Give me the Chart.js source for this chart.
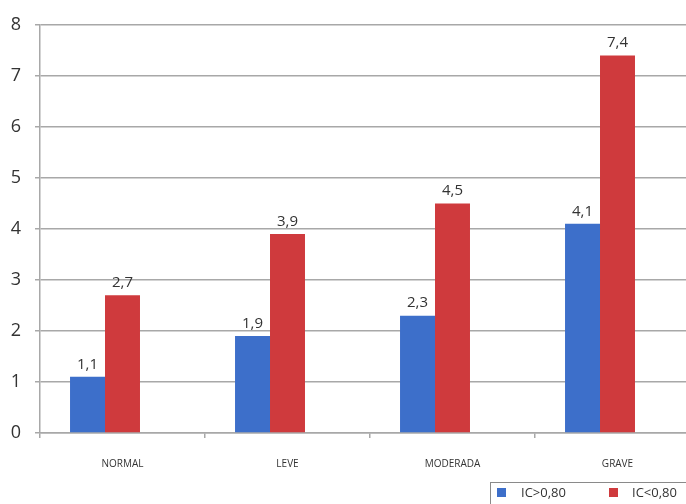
<!DOCTYPE html>
<html>
<head>
<meta charset="utf-8">
<script src="https://cdn.jsdelivr.net/npm/chart.js@4.4.0/dist/chart.umd.min.js"></script>
<style>
  html, body { margin: 0; padding: 0; background: #fff; overflow: hidden; }
  body { width: 686px; height: 504px; }
  #wrap { width: 710px; height: 504px; position: relative; }
</style>
</head>
<body>
<div id="wrap"><canvas id="chart"></canvas></div>
<script>
// chart data
const categories = ['NORMAL', 'LEVE', 'MODERADA', 'GRAVE'];
const seriesNames = ['IC>0,80', 'IC<0,80'];
const icHigh = [1.1, 1.9, 2.3, 4.1];
const icLow = [2.7, 3.9, 4.5, 7.4];
const emptySeries = [null, null, null, null]; // blank third series, as in the original sheet
const yTicks = [0, 1, 2, 3, 4, 5, 6, 7, 8];

const colors = ['#3d6fca', '#cf3a3d'];
const textColor = '#333333';
const gridColor = '#a8a8a8';

// value labels above each bar, decimal comma
const valueLabels = {
    id: 'valueLabels',
    afterDatasetsDraw(chart) {
        const ctx = chart.ctx;
        ctx.save();
        ctx.font = '15px "Open Sans"';
        ctx.fillStyle = textColor;
        ctx.textAlign = 'center';
        ctx.textBaseline = 'bottom';
        chart.data.datasets.forEach((ds, i) => {
            chart.getDatasetMeta(i).data.forEach((bar, j) => {
                if (ds.data[j] == null) return;
                const txt = ds.data[j].toFixed(1).replace('.', ',');
                ctx.fillText(txt, bar.x, bar.y - 5);
            });
        });
        ctx.restore();
    }
};

// boxed legend in the bottom right corner
const boxLegend = {
    id: 'boxLegend',
    afterDraw(chart) {
        const ctx = chart.ctx;
        ctx.save();
        ctx.strokeStyle = '#8a8a8a';
        ctx.lineWidth = 1;
        ctx.strokeRect(490.5, 482.5, 240, 40);
        ctx.font = '13px "Open Sans"';
        ctx.textBaseline = 'middle';
        const items = [[497, 521], [609, 632]];
        seriesNames.forEach((name, i) => {
            ctx.fillStyle = colors[i];
            ctx.fillRect(items[i][0], 488, 9, 9);
            ctx.fillStyle = textColor;
            ctx.fillText(name, items[i][1], 493);
        });
        ctx.restore();
    }
};

const ctx = document.getElementById('chart').getContext('2d');
const chart = new Chart(ctx, {
    type: 'bar',
    data: {
        labels: categories,
        datasets: [
            { label: seriesNames[0], data: icHigh, backgroundColor: colors[0] },
            { label: seriesNames[1], data: icLow, backgroundColor: colors[1] },
            { label: '', data: emptySeries, backgroundColor: 'rgba(0,0,0,0)' }
        ]
    },
    options: {
        responsive: true,
        maintainAspectRatio: false,
        animation: false,
        layout: { padding: { top: 20, right: 10, bottom: 0, left: 0 } },
        datasets: {
            bar: { barPercentage: 1, categoryPercentage: 0.636 }
        },
        plugins: {
            legend: { display: false },
            tooltip: { enabled: false }
        },
        scales: {
            x: {
                grid: {
                    offset: true,
                    drawOnChartArea: false,
                    tickLength: 5,
                    color: gridColor,
                    lineWidth: 1.5
                },
                border: { color: gridColor, width: 1.5 },
                ticks: {
                    color: textColor,
                    font: { family: 'Open Sans', size: 10 },
                    padding: 20,
                    maxRotation: 0
                },
                afterFit(scale) { scale.height = 71; }
            },
            y: {
                min: 0,
                max: 8,
                afterBuildTicks(scale) {
                    scale.ticks = yTicks.map(v => ({ value: v }));
                },
                grid: {
                    color: gridColor,
                    lineWidth: 1.5,
                    tickLength: 5
                },
                border: { color: gridColor, width: 1.5 },
                ticks: {
                    color: textColor,
                    font: { family: 'Open Sans', size: 18 },
                    padding: 14
                },
                afterFit(scale) { scale.width = 40; }
            }
        }
    },
    plugins: [valueLabels, boxLegend]
});
</script>
</body>
</html>
